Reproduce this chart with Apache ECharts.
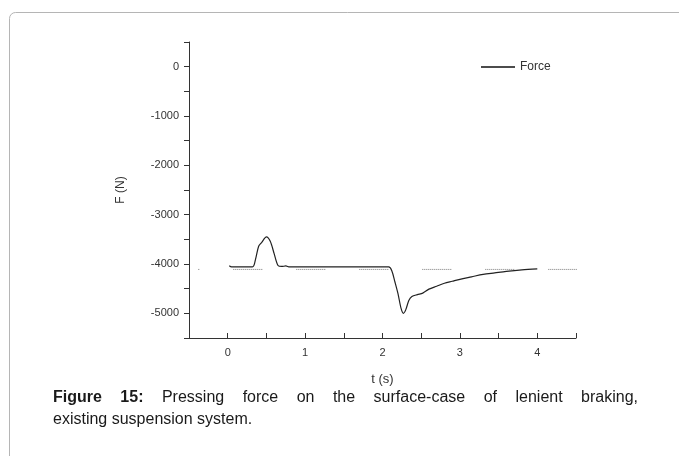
<!DOCTYPE html>
<html>
<head>
<meta charset="utf-8">
<script src="https://cdn.jsdelivr.net/npm/echarts@6/dist/echarts.min.js"></script>
<style>
html,body{margin:0;padding:0;background:#fff;}
#chart{width:679px;height:456px;}
</style>
</head>
<body>
<div id="chart"></div>
<script>
// ---- data ----
const forceT = [0.02,0.05,0.32,0.36,0.40,0.44,0.50,0.55,0.60,0.65,0.70,0.75,0.80,2.08,2.12,2.16,2.20,2.24,2.27,2.30,2.34,2.38,2.45,2.52,2.60,2.70,2.80,2.90,3.00,3.15,3.30,3.45,3.60,3.80,4.00];
const forceF = [-4035,-4060,-4060,-3900,-3640,-3560,-3450,-3540,-3790,-4030,-4050,-4040,-4060,-4060,-4135,-4360,-4600,-4900,-5000,-4930,-4740,-4660,-4620,-4590,-4510,-4450,-4390,-4350,-4310,-4260,-4210,-4180,-4150,-4120,-4100];
const refT = [-0.38, 4.52];
const refF = [-4110, -4110];
const xTicks = [0,1,2,3,4];
const yTicks = [0,-1000,-2000,-3000,-4000,-5000];
const captionBold = "Figure 15:";
const captionLine1 = "Pressing force on the surface-case of lenient braking,";
const captionLine2 = "existing suspension system.";

const chart = echarts.init(document.getElementById('chart'));

// dotted reference pattern
const dash = [];
for (let i = 0; i < 14; i++) dash.push(1, 1);
dash.push(1, 34);

// caption justification
const FONT = '"Liberation Sans", Arial, sans-serif';
const CAP = 16;
const cv = document.createElement('canvas').getContext('2d');
function w(text, bold){ cv.font = (bold ? 'bold ' : '') + CAP + 'px ' + FONT; return cv.measureText(text).width; }
const words = [];
captionBold.split(' ').forEach(s => words.push({t:s, b:true}));
captionLine1.split(' ').forEach(s => words.push({t:s, b:false}));
const x0 = 53, x1 = 638;
let total = 0; words.forEach(o => { o.w = w(o.t, o.b); total += o.w; });
const gap = (x1 - x0 - total) / (words.length - 1);
const graphics = [{
  type:'rect', shape:{x:9.5, y:12.5, width:720, height:500, r:6},
  style:{fill:'none', stroke:'#b5b5b5', lineWidth:1}, silent:true, z:-1
}];
let cx = x0;
words.forEach(o => {
  graphics.push({type:'text', x:cx, y:398, style:{text:o.t, font:(o.b?'bold ':'')+CAP+'px '+FONT, fill:'#1a1a1a', textVerticalAlign:'middle'}});
  cx += o.w + gap;
});
graphics.push({type:'text', x:x0, y:420, style:{text:captionLine2, font:CAP+'px '+FONT, fill:'#1a1a1a', textVerticalAlign:'middle'}});

const option = {
  animation:false,
  backgroundColor:'#fff',
  grid:{left:189, right:103, top:42, bottom:118},
  legend:{
    left:476, top:56, icon:'rect', itemWidth:34, itemHeight:1.4, itemGap:4,
    data:[{name:'Force'}],
    textStyle:{fontFamily:FONT, fontSize:12, color:'#333'}
  },
  xAxis:{
    type:'value', min:-0.5, max:4.5, interval:0.5,
    name:'t (s)', nameLocation:'middle', nameGap:35,
    nameTextStyle:{fontFamily:FONT, fontSize:13, color:'#333'},
    axisLine:{onZero:false, lineStyle:{color:'#333', width:1}},
    axisTick:{inside:true, length:5, lineStyle:{color:'#333'}},
    axisLabel:{fontFamily:FONT, fontSize:11, color:'#333', margin:9,
      formatter:v => xTicks.includes(Math.round(v*1000)/1000) ? String(v) : ''},
    splitLine:{show:false}
  },
  yAxis:{
    type:'value', min:-5500, max:500, interval:500,
    name:'F (N)', nameLocation:'middle', nameGap:62, nameRotate:90,
    nameTextStyle:{fontFamily:FONT, fontSize:12, color:'#333'},
    axisLine:{show:true, onZero:false, lineStyle:{color:'#333', width:1}},
    axisTick:{show:true, inside:false, length:5, lineStyle:{color:'#333'}},
    axisLabel:{fontFamily:FONT, fontSize:11, color:'#333', margin:10,
      formatter:v => yTicks.includes(v) ? String(v) : ''},
    splitLine:{show:false}
  },
  series:[
    {
      name:'ref', type:'line', data:refT.map((t,i)=>[t,refF[i]]),
      symbol:'none', silent:true,
      lineStyle:{color:'#7a7a7a', width:1, type:dash, dashOffset:28}
    },
    {
      name:'Force', type:'line', data:forceT.map((t,i)=>[t,forceF[i]]),
      symbol:'none', smooth:0.3, color:'#111',
      lineStyle:{color:'#222', width:1.2}
    }
  ],
  graphic:graphics
};
chart.setOption(option);
</script>
</body>
</html>
